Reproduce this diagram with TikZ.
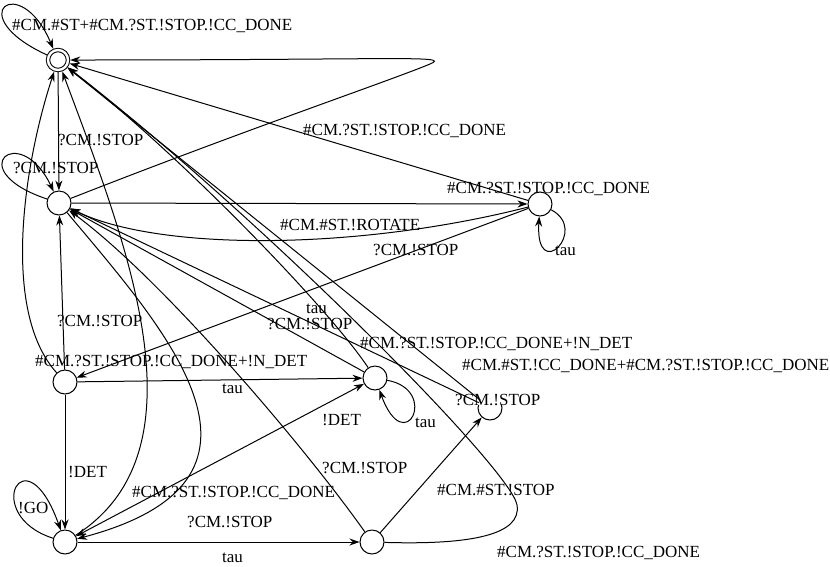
\documentclass[tikz,border=0pt]{standalone}
\usepackage{fontspec}
\setmainfont{Liberation Serif}
\usetikzlibrary{arrows.meta,positioning}
\tikzset{
  state/.style={circle, draw, line width=1pt, minimum size=24pt, inner sep=0pt,
                fill=white},
  init/.style={state, double, double distance=2.4pt, minimum size=20pt, outer sep=2.2pt},
  tr/.style={-{Stealth[length=10pt,width=7pt]}, line width=1pt},
  lbl/.style={font=\fontsize{17}{20}\selectfont, inner sep=0pt, anchor=base west},
}

\begin{document}
\begin{tikzpicture}[x=1pt, y=-1pt]
\useasboundingbox (0,0) rectangle (830,566);

% -------------------- States --------------------
\node[init]  (s0) at (58,60)   {};
\node[state] (s1) at (59,203)  {};
\node[state] (s2) at (540,204) {};
\node[state] (s3) at (65,382)  {};
\node[state] (s4) at (375,378) {};
\node[state] (s5) at (490,408) {};
\node[state] (s6) at (65,542)  {};
\node[state] (s7) at (372,542) {};

\coordinate (tipA) at (430,64);
\coordinate (tipB) at (517,505);

% -------------------- Labels --------------------
\node[lbl] (l00) at (12,30)   {\#CM.\#ST+\#CM.?ST.!STOP.!CC\_DONE};
\node[lbl] (l01) at (58,145)  {?CM.!STOP};
\node[lbl] (l11) at (13,173)  {?CM.!STOP};
\node[lbl] (l20) at (303,135) {\#CM.?ST.!STOP.!CC\_DONE};
\node[lbl] (l12) at (447,193) {\#CM.?ST.!STOP.!CC\_DONE};
\node[lbl] (l21) at (280,230) {\#CM.\#ST.!ROTATE};
\node[lbl] (l23) at (373,255) {?CM.!STOP};
\node[lbl] (l22) at (555,255) {tau};
\node[lbl] (l31) at (57,326)  {?CM.!STOP};
\node[lbl] (l30) at (35,366)  {\#CM.?ST.!STOP.!CC\_DONE+!N\_DET};
\node[lbl] (l34) at (222,393) {tau};
\node[lbl] (l36) at (68,477)  {!DET};
\node[lbl] (l41) at (267,329) {?CM.!STOP};
\node[lbl] (l41b) at (306,313) {tau};
\node[lbl] (l40) at (360,348) {\#CM.?ST.!STOP.!CC\_DONE+!N\_DET};
\node[lbl] (l44) at (415,427) {tau};
\node[lbl] (l64) at (322,425) {!DET};
\node[lbl] (l50) at (462,370) {\#CM.\#ST.!CC\_DONE+\#CM.?ST.!STOP.!CC\_DONE};
\node[lbl, fill=white] (l51) at (455,405) {?CM.!STOP};
\node[lbl] (l66) at (18,513)  {!GO};
\node[lbl] (l46) at (132,497) {\#CM.?ST.!STOP.!CC\_DONE};
\node[lbl] (l16) at (187,527) {?CM.!STOP};
\node[lbl] (l67) at (222,562) {tau};
\node[lbl] (l71) at (322,473) {?CM.!STOP};
\node[lbl] (l75) at (437,495) {\#CM.\#ST.!STOP};
\node[lbl] (l70) at (497,557) {\#CM.?ST.!STOP.!CC\_DONE};

% -------------------- Transitions --------------------
\draw[tr] (s0) .. controls (-40,15) and (20,-30) .. (s0);
\draw[tr] (s0) -- (s1);
\draw[tr] (s1) .. controls (-40,170) and (20,120) .. (s1);
\draw[tr] (s1) .. controls (250,128) and (392,80) .. (tipA)
              .. controls (452,55) and (400,60) .. (s0);
\draw[tr] (s1) -- (s2);
\draw[tr] (s2) -- (s0);
\draw[tr] (s2) .. controls (360,250) and (160,252) .. (s1);
\draw[tr] (s2) .. controls (590,230) and (535,285) .. (s2);
\draw[tr] (s2) -- (s3);
\draw[tr] (s3) .. controls (0,310) and (25,160) .. (s0);
\draw[tr] (s3) -- (s1);
\draw[tr] (s3) -- (s4);
\draw[tr] (s3) -- (s6);
\draw[tr] (s4) .. controls (330,310) and (180,154) .. (s0);
\draw[tr] (s4) -- (s1);
\draw[tr] (s4) .. controls (440,390) and (405,460) .. (s4);
\draw[tr, {Stealth[length=10pt,width=7pt]}-{Stealth[length=10pt,width=7pt]}] (s6) -- (s4);
\draw[tr] (s5) -- (s0);
\draw[tr] (s5) -- (s1);
\draw[tr] (s6) .. controls (-20,515) and (25,430) .. (s6);
\draw[tr] (s6) -- (s7);
\draw[tr] (s6) .. controls (210,450) and (125,240) .. (s0);
\draw[tr] (s1) .. controls (170,335) and (300,480) .. (s6);
\draw[tr] (s7) -- (s5);
\draw[tr] (s7) .. controls (302,443) and (159,276) .. (s1);
\draw[tr] (s7) .. controls (470,545) and (522,535) .. (tipB)
              .. controls (512,470) and (258,214) .. (s0);

\end{tikzpicture}
\end{document}
